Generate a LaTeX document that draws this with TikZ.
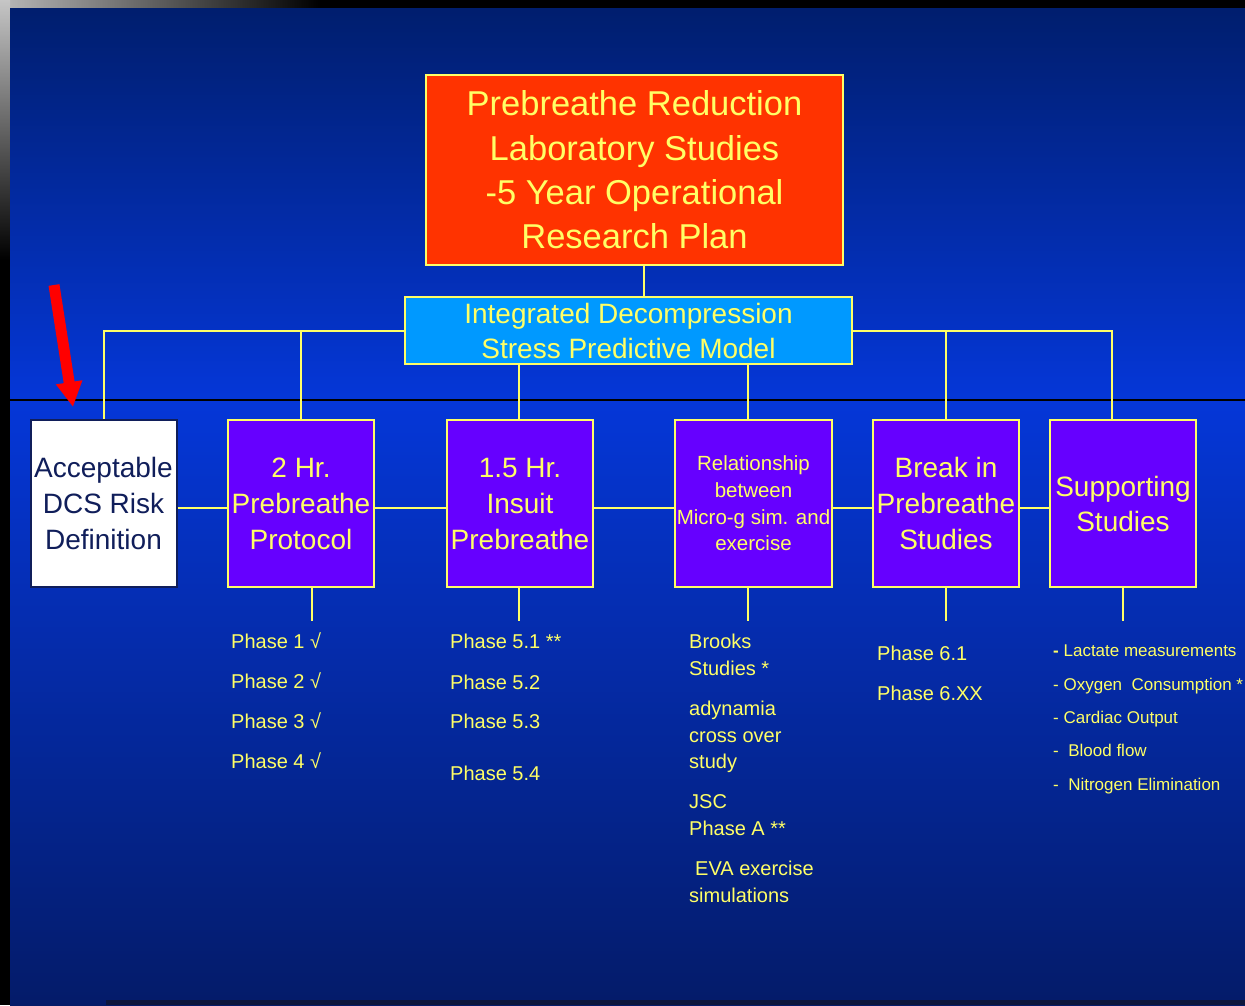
\documentclass[tikz,border=0pt]{standalone}
\usepackage{fontspec}
\setmainfont{Liberation Sans}
\usetikzlibrary{arrows.meta}
\definecolor{yel}{RGB}{255,255,102}
\definecolor{orng}{RGB}{255,51,0}
\definecolor{cyanbox}{RGB}{0,153,255}
\definecolor{purp}{RGB}{102,0,255}
\definecolor{navytxt}{RGB}{16,30,90}
\definecolor{bgtop}{RGB}{0,30,110}
\definecolor{bgmid}{RGB}{5,55,216}
\definecolor{bglow}{RGB}{4,44,172}
\definecolor{bgbot}{RGB}{4,27,105}
\definecolor{stripdark}{RGB}{12,22,60}
\tikzset{
  box/.style={draw=yel, line width=2pt, fill=purp, text=yel, align=center, inner sep=0pt,
    minimum width=146pt, minimum height=167pt, font=\fontsize{28}{36}\selectfont},
  conn/.style={draw=yel, line width=2pt},
  item/.style={anchor=base west, text=yel, inner sep=0pt, font=\fontsize{20}{24}\selectfont},
  smallitem/.style={anchor=base west, text=yel, inner sep=0pt, font=\fontsize{17}{20}\selectfont},
}
\begin{document}
\begin{tikzpicture}[x=1pt,y=-1pt]
\useasboundingbox (0,0) rectangle (1245,1005);
% background
\fill[black] (0,0) rectangle (1245,1005);
\shade[left color=gray!55, right color=black] (0,0) rectangle (320,8);
\shade[top color=gray!45, bottom color=black] (0,0) rectangle (10,260);
\shade[top color=bgtop, bottom color=bgmid] (10,8) rectangle (1245,400);
\shade[top color=bgmid, middle color=bglow, bottom color=bgbot] (10,400) rectangle (1245,1005);
\fill[stripdark] (106,1000) rectangle (1245,1005);
\draw[black, line width=1.5pt] (10,400) -- (1245,400);

% main boxes
\node[box, fill=orng, minimum width=417pt, minimum height=190pt,
      font=\fontsize{34.5}{44.3}\selectfont] (title) at (634.5,170)
  {Prebreathe Reduction\\Laboratory Studies\\-5 Year Operational\\Research Plan};
\node[box, fill=cyanbox, minimum width=447pt, minimum height=67pt,
      font=\fontsize{28}{35}\selectfont] (model) at (628.5,330.5)
  {Integrated Decompression\\Stress Predictive Model};

\node[box, fill=white, draw=navytxt, text=navytxt] (acc) at (103.5,503.5)
  {Acceptable\\DCS Risk\\Definition};
\node[box] (b2) at (301,503.5) {2 Hr.\\Prebreathe\\Protocol};
\node[box] (b3) at (520,503.5) {1.5 Hr.\\Insuit\\Prebreathe};
\node[box, minimum width=157pt, font=\fontsize{20.5}{26.7}\selectfont] (rel) at (753.5,503.5)
  {Relationship\\between\\Micro-g sim. and\\exercise};
\node[box] (brk) at (946,503.5) {Break in\\Prebreathe\\Studies};
\node[box, font=\fontsize{28}{35}\selectfont] (sup) at (1123,503.5) {Supporting\\Studies};

% connectors
\draw[conn] ([xshift=9.5pt]title.south) -- ([xshift=15.5pt]model.north);
\draw[conn] (model.west) -| (acc.north);
\draw[conn] (b2.north) -- (b2.north |- model.west);
\draw[conn] (model.east) -| ([xshift=-11pt]sup.north);
\draw[conn] (brk.north) -- (brk.north |- model.east);
\draw[conn] ([xshift=-1pt]b3.north) -- ([xshift=-1pt]b3.north |- model.south);
\draw[conn] ([xshift=-5.5pt]rel.north) -- ([xshift=-5.5pt]rel.north |- model.south);

\draw[conn] ([yshift=-4.5pt]acc.east) -- ([yshift=-4.5pt]b2.west);
\draw[conn] ([yshift=-4.5pt]b2.east) -- ([yshift=-4.5pt]b3.west);
\draw[conn] ([yshift=-4.5pt]b3.east) -- ([yshift=-4.5pt]rel.west);
\draw[conn] ([yshift=-4.5pt]rel.east) -- ([yshift=-4.5pt]brk.west);
\draw[conn] ([yshift=-4.5pt]brk.east) -- ([yshift=-4.5pt]sup.west);

\coordinate (d2) at (312,621);
\coordinate (d3) at (519,621);
\coordinate (d4) at (748,621);
\coordinate (d5) at (946,621);
\coordinate (d6) at (1123,621);
\draw[conn] (d2 |- b2.south) -- (d2);
\draw[conn] (d3 |- b3.south) -- (d3);
\draw[conn] (d4 |- rel.south) -- (d4);
\draw[conn] (d5 |- brk.south) -- (d5);
\draw[conn] (d6 |- sup.south) -- (d6);

% red arrow
\coordinate (rtail) at (54,285);
\coordinate (rtip) at (73,407);
\draw[red, line width=11pt, -{Triangle[width=25pt,length=25pt]}] (rtail) -- (rtip);

% lists
\node[item] (p1) at (231,648) {Phase 1 √};
\node[item] (p2) at (231,688) {Phase 2 √};
\node[item] (p3) at (231,728) {Phase 3 √};
\node[item] (p4) at (231,768) {Phase 4 √};

\node[item] (q1) at (450,648) {Phase 5.1 **};
\node[item] (q2) at (450,689) {Phase 5.2};
\node[item] (q3) at (450,728) {Phase 5.3};
\node[item] (q4) at (450,780) {Phase 5.4};

\node[item] (r1) at (689,648) {Brooks};
\node[item] (r2) at (689,675) {Studies *};
\node[item] (r3) at (689,715) {adynamia};
\node[item] (r4) at (689,742) {cross over};
\node[item] (r5) at (689,768) {study};
\node[item] (r6) at (689,808) {JSC};
\node[item] (r7) at (689,835) {Phase A **};
\node[item] (r8) at (695,875) {EVA exercise};
\node[item] (r9) at (689,902) {simulations};

\node[item] (s1) at (877,660) {Phase 6.1};
\node[item] (s2) at (877,700) {Phase 6.XX};

\node[smallitem] (t1) at (1053,656) {\textbf{-} Lactate measurements};
\node[smallitem] (t2) at (1053,690) {- Oxygen\ \ Consumption *};
\node[smallitem] (t3) at (1053,723) {- Cardiac Output};
\node[smallitem] (t4) at (1053,756) {-\ \ Blood flow};
\node[smallitem] (t5) at (1053,790) {-\ \ Nitrogen Elimination};
\end{tikzpicture}
\end{document}
